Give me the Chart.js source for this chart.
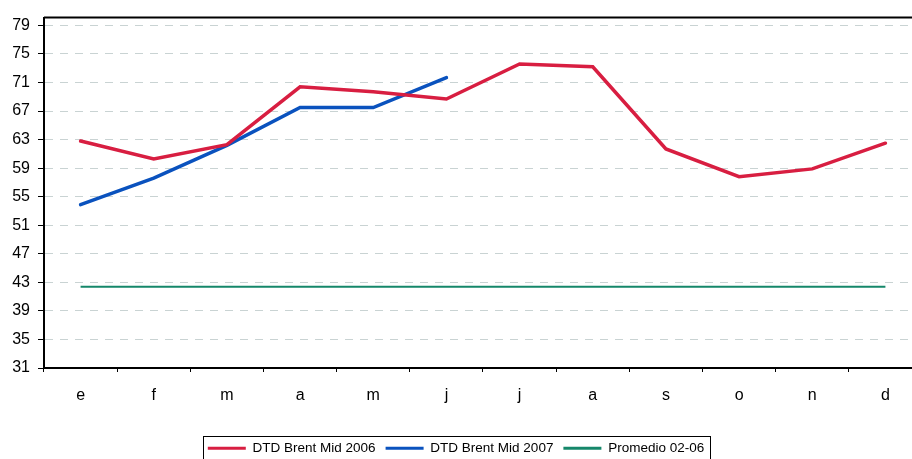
<!DOCTYPE html>
<html lang="es">
  <head>
    <meta charset="UTF-8" />
    <title>DTD Brent Mid</title>
    <script src="https://cdn.jsdelivr.net/npm/chart.js"></script>
    <style>
      body {
        margin: 0;
        background-color: #ffffff;
        overflow: hidden;
      }
      #caja {
        width: 922px;
        height: 459px;
      }
    </style>
  </head>
  <body>
    <div id="caja"><canvas id="grafico" width="922" height="459"></canvas></div>

    <script>
      const meses = ["e", "f", "m", "a", "m", "j", "j", "a", "s", "o", "n", "d"];
      const brent2006 = [62.8, 60.3, 62.3, 70.4, 69.7, 68.7, 73.6, 73.2, 61.7, 57.8, 58.9, 62.5];
      const brent2007 = [53.9, 57.6, 62.2, 67.5, 67.5, 71.7, null, null, null, null, null, null];
      const promedio = [42.4, 42.4, 42.4, 42.4, 42.4, 42.4, 42.4, 42.4, 42.4, 42.4, 42.4, 42.4];
      const ticksY = [31, 35, 39, 43, 47, 51, 55, 59, 63, 67, 71, 75, 79];

      const fuente = "'Liberation Sans', Arial, sans-serif";

      // linea superior del area y marco de la leyenda
      const marco = {
        id: "marco",
        afterLayout(chart) {
          // la leyenda va un poco a la izquierda del centro del lienzo
          chart.legend.left -= 5;
          chart.legend.right -= 5;
        },
        afterDraw(chart) {
          const ctx = chart.ctx;
          const area = chart.chartArea;
          ctx.save();
          ctx.strokeStyle = "#000000";
          ctx.lineWidth = 2;
          ctx.beginPath();
          ctx.moveTo(area.left, area.top);
          ctx.lineTo(area.right, area.top);
          ctx.stroke();

          const cajas = chart.legend.legendHitBoxes;
          if (cajas && cajas.length) {
            const primera = cajas[0];
            const ultima = cajas[cajas.length - 1];
            const centro = primera.top + primera.height / 2;
            ctx.lineWidth = 1;
            ctx.strokeRect(
              Math.round(primera.left - 5) + 0.5,
              Math.round(centro - 12) + 0.5,
              Math.round(ultima.left + ultima.width - primera.left + 11),
              30
            );
          }
          ctx.restore();
        },
      };

      new Chart(document.getElementById("grafico"), {
        type: "line",
        data: {
          labels: meses,
          datasets: [
            {
              label: "DTD Brent Mid 2006",
              data: brent2006,
              borderColor: "#d81e41",
              backgroundColor: "#d81e41",
              borderWidth: 3.5,
              pointRadius: 0,
              borderCapStyle: "round",
            },
            {
              label: "DTD Brent Mid 2007",
              data: brent2007,
              borderColor: "#0a52be",
              backgroundColor: "#0a52be",
              borderWidth: 3.5,
              pointRadius: 0,
              borderCapStyle: "round",
            },
            {
              label: "Promedio 02-06",
              data: promedio,
              borderColor: "#15876a",
              backgroundColor: "#15876a",
              borderWidth: 2,
              pointRadius: 0,
            },
          ],
        },
        options: {
          responsive: false,
          animation: false,
          layout: { padding: { top: 14, left: 0, right: 0, bottom: -6 } },
          scales: {
            x: {
              offset: true,
              afterFit: (escala) => {
                escala.height = 63.5;
              },
              grid: {
                offset: true,
                drawOnChartArea: false,
                tickLength: 4,
                tickColor: "#000000",
              },
              border: { color: "#000000", width: 2 },
              ticks: {
                color: "#000000",
                padding: 14,
                font: { family: fuente, size: 16 },
              },
            },
            y: {
              min: 31,
              max: 80.1,
              afterFit: (escala) => {
                escala.width = 44;
              },
              afterBuildTicks: (escala) => {
                escala.ticks = ticksY.map((v) => ({ value: v }));
              },
              grid: {
                color: "#c9d3d3",
                tickColor: "#000000",
                tickLength: 6,
              },
              border: { color: "#000000", width: 2, dash: [8, 7] },
              ticks: {
                color: "#000000",
                padding: 8,
                font: { family: fuente, size: 16 },
              },
            },
          },
          plugins: {
            tooltip: { enabled: false },
            legend: {
              position: "bottom",
              labels: {
                color: "#000000",
                boxWidth: 38,
                boxHeight: 3,
                padding: 10,
                font: { family: fuente, size: 13.5 },
                generateLabels: (chart) =>
                  Chart.defaults.plugins.legend.labels
                    .generateLabels(chart)
                    .map((item) => ({ ...item, lineWidth: 0 })),
              },
            },
          },
        },
        plugins: [marco],
      });
    </script>
  </body>
</html>
